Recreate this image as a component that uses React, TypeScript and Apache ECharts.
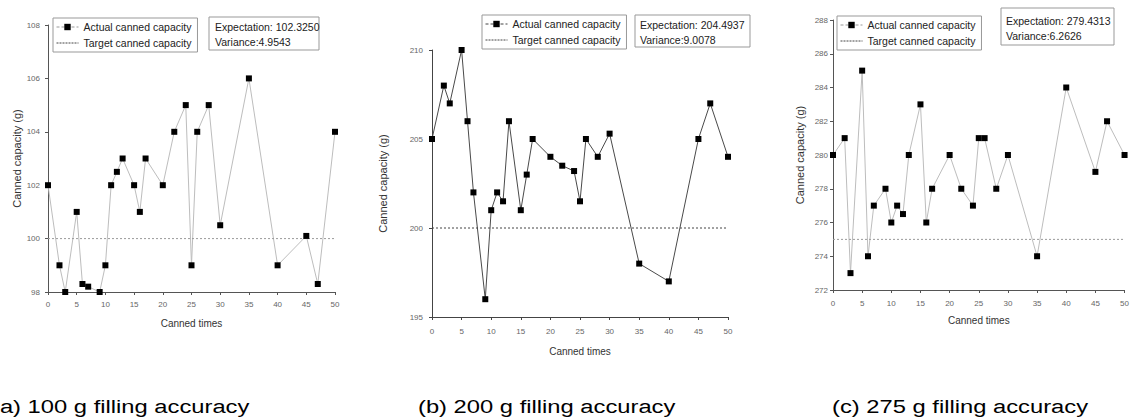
import React, { useEffect, useRef } from "react";
import * as echarts from "echarts";

// ---- data ----
const CANNED_TIMES = [0, 2, 3, 5, 6, 7, 9, 10, 11, 12, 13, 15, 16, 17, 20, 22, 24, 25, 26, 28, 30, 35, 40, 45, 47, 50];
const ACTUAL_100 = [102, 99, 98, 101, 98.3, 98.2, 98, 99, 102, 102.5, 103, 102, 101, 103, 102, 104, 105, 99, 104, 105, 100.5, 106, 99, 100.1, 98.3, 104];
const ACTUAL_200 = [205, 208, 207, 210, 206, 202, 196, 201, 202, 201.5, 206, 201, 203, 205, 204, 203.5, 203.2, 201.5, 205, 204, 205.3, 198, 197, 205, 207, 204];
const ACTUAL_275 = [280, 281, 273, 285, 274, 277, 278, 276, 277, 276.5, 280, 283, 276, 278, 280, 278, 277, 281, 281, 278, 280, 274, 284, 279, 282, 280];
const TARGETS = [100, 200, 275];
const Y_MIN = [98, 195, 272];
const Y_MAX = [108, 210, 288];
const Y_STEP = [2, 5, 2];
const X_MIN = 0;
const X_MAX = 50;
const X_STEP = 5;
const EXPECTATIONS = ["102.3250", "204.4937", "279.4313"];
const VARIANCES = ["4.9543", "9.0078", "6.2626"];
const CAPTIONS = ["(a) 100 g filling accuracy", "(b) 200 g filling accuracy", "(c) 275 g filling accuracy"];
const ACTUAL_NAME = "Actual canned capacity";
const TARGET_NAME = "Target canned capacity";
const X_NAME = "Canned times";
const Y_NAME = "Canned capacity (g)";

// ---- layout / styles ----
const FONT = "Arial, 'Liberation Sans', sans-serif";
const PANELS = [
  {
    grid: { left: 48, top: 25, width: 287, height: 267 },
    lineColor: "#bdbdbd", targetColor: "#9a9a9a", axisColor: "#555",
    yNameGap: 25, xNameGap: 26, xLabelMargin: 8, yLabelMargin: 8,
    legend: { left: 53, top: 18 },
    box: { x: 209, y: 17, w: 110, h: 33, tx: 215, ty1: 27, ty2: 42 },
    caption: { x: -8 },
  },
  {
    grid: { left: 432, top: 50, width: 296, height: 267 },
    lineColor: "#4a4a4a", targetColor: "#444", axisColor: "#444",
    yNameGap: 44, xNameGap: 29, xLabelMargin: 10, yLabelMargin: 9,
    legend: { left: 482, top: 15 },
    box: { x: 635, y: 15, w: 115, h: 32, tx: 640, ty1: 25, ty2: 40 },
    caption: { x: 418 },
  },
  {
    grid: { left: 833, top: 20, width: 297, height: 270 },
    lineColor: "#bdbdbd", targetColor: "#9a9a9a", axisColor: "#555",
    yNameGap: 28, xNameGap: 25, xLabelMargin: 9, yLabelMargin: 5,
    legend: { left: 837, top: 16 },
    box: { x: 1001, y: 8, w: 113, h: 37, tx: 1006, ty1: 21, ty2: 36 },
    caption: { x: 832 },
  },
];

const ACTUALS = [ACTUAL_100, ACTUAL_200, ACTUAL_275];

export default function App() {
  const ref = useRef<HTMLDivElement>(null);

  useEffect(() => {
    if (!ref.current) return;
    const chart = echarts.init(ref.current, undefined, { renderer: "svg" });

    const grids: any[] = [];
    const xAxes: any[] = [];
    const yAxes: any[] = [];
    const series: any[] = [];
    const legends: any[] = [];
    const graphics: any[] = [];

    PANELS.forEach((p, i) => {
      grids.push({ ...p.grid, containLabel: false });
      xAxes.push({
        type: "value",
        gridIndex: i,
        min: X_MIN,
        max: X_MAX,
        interval: X_STEP,
        name: X_NAME,
        nameLocation: "middle",
        nameGap: p.xNameGap,
        nameTextStyle: { fontSize: 10, color: "#333", fontFamily: FONT },
        axisLine: { lineStyle: { color: p.axisColor, width: 1 } },
        axisTick: { show: true, length: 3, lineStyle: { color: p.axisColor } },
        axisLabel: { fontSize: 8, color: "#666", margin: p.xLabelMargin, fontFamily: FONT },
        splitLine: { show: false },
      });
      yAxes.push({
        type: "value",
        gridIndex: i,
        min: Y_MIN[i],
        max: Y_MAX[i],
        interval: Y_STEP[i],
        name: Y_NAME,
        nameLocation: "middle",
        nameGap: p.yNameGap,
        nameTextStyle: { fontSize: 11, color: "#333", fontFamily: FONT },
        axisLine: { show: true, lineStyle: { color: p.axisColor, width: 1 } },
        axisTick: { show: true, length: 3, lineStyle: { color: p.axisColor } },
        axisLabel: { fontSize: 8, color: "#666", margin: p.yLabelMargin, fontFamily: FONT },
        splitLine: { show: false },
      });
      series.push({
        type: "line",
        name: ACTUAL_NAME,
        xAxisIndex: i,
        yAxisIndex: i,
        data: CANNED_TIMES.map((x, k) => [x, ACTUALS[i][k]]),
        symbol: "rect",
        symbolSize: 6,
        itemStyle: { color: "#000" },
        lineStyle: { color: p.lineColor, width: 1 },
        clip: false,
      });
      series.push({
        type: "line",
        name: TARGET_NAME,
        xAxisIndex: i,
        yAxisIndex: i,
        data: [[X_MIN, TARGETS[i]], [X_MAX, TARGETS[i]]],
        symbol: "none",
        itemStyle: { color: "rgba(0,0,0,0)", borderWidth: 0 },
        lineStyle: { color: p.targetColor, width: 1, type: [2, 2] },
      });
      legends.push({
        left: p.legend.left,
        top: p.legend.top,
        orient: "vertical",
        borderColor: "#999",
        borderWidth: 1,
        padding: [3, 6, 3, 3],
        itemWidth: 22,
        itemHeight: 8,
        itemGap: 4,
        selectedMode: false,
        textStyle: { fontSize: 10.5, color: "#222", fontFamily: FONT, lineHeight: 12 },
        data: [
          {
            name: ACTUAL_NAME,
            itemStyle: { color: "#000" },
            lineStyle: { color: i === 1 ? "#444" : "#999", width: 1, type: [3, 2] },
          },
          {
            name: TARGET_NAME,
            itemStyle: { color: "rgba(0,0,0,0)", borderWidth: 0, opacity: 0 },
            lineStyle: { color: "#444", width: 1, type: [2, 1] },
          },
        ],
      });
      graphics.push({
        type: "rect",
        shape: { x: p.box.x, y: p.box.y, width: p.box.w, height: p.box.h },
        style: { fill: "#fff", stroke: "#999", lineWidth: 1 },
      });
      graphics.push({
        type: "text",
        x: p.box.tx,
        y: p.box.ty1,
        style: {
          text: "Expectation: " + EXPECTATIONS[i],
          fontSize: 10.5,
          fontFamily: FONT,
          fill: "#222",
          verticalAlign: "middle",
        },
      });
      graphics.push({
        type: "text",
        x: p.box.tx,
        y: p.box.ty2,
        style: {
          text: "Variance:" + VARIANCES[i],
          fontSize: 10.5,
          fontFamily: FONT,
          fill: "#222",
          verticalAlign: "middle",
        },
      });
      graphics.push({
        type: "text",
        x: p.caption.x,
        y: 407,
        scaleX: 1.32,
        style: {
          text: CAPTIONS[i],
          fontSize: 18,
          fontFamily: FONT,
          fill: "#000",
          verticalAlign: "middle",
        },
      });
    });

    chart.setOption({
      animation: false,
      backgroundColor: "#fff",
      grid: grids,
      xAxis: xAxes,
      yAxis: yAxes,
      legend: legends,
      series,
      graphic: { elements: graphics },
    });

    return () => {
      chart.dispose();
    };
  }, []);

  return (
    <div
      ref={ref}
      style={{ position: "absolute", left: 0, top: 0, width: 1132, height: 419 }}
    />
  );
}
